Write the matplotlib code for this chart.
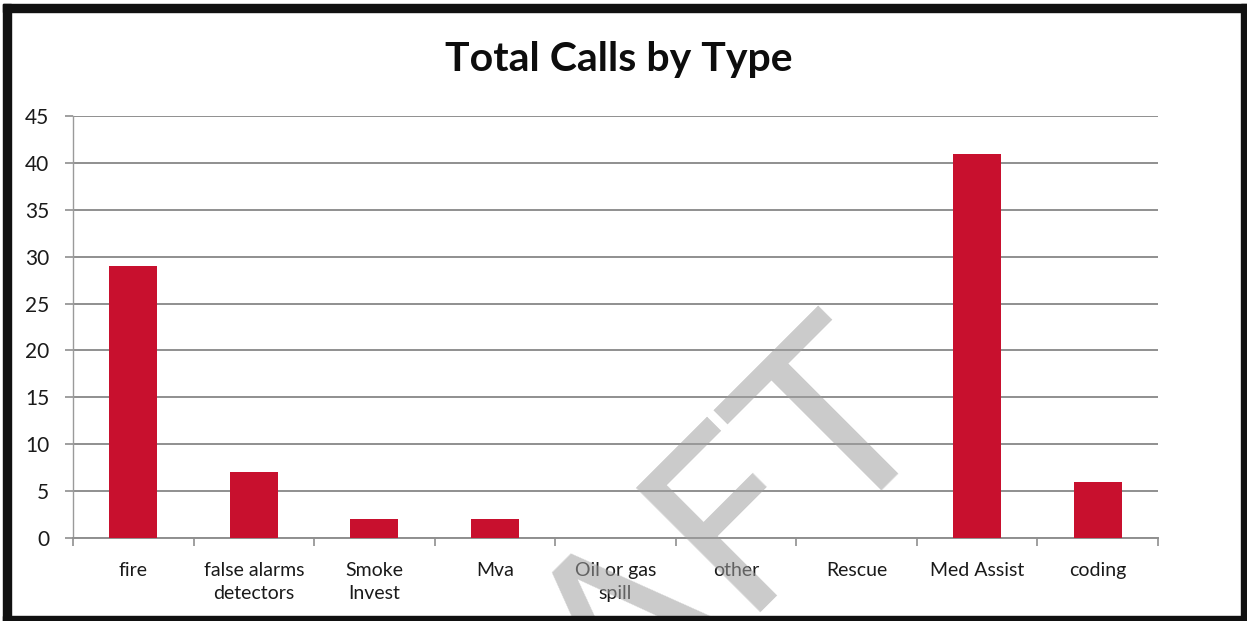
import matplotlib.pyplot as plt
from matplotlib.patches import Rectangle

# ======================
# DATOS
# ======================
categories = ["fire", "false alarms\ndetectors", "Smoke\nInvest", "Mva",
              "Oil or gas\nspill", "other", "Rescue", "Med Assist", "coding"]
calls = [29, 7, 2, 2, 0, 0, 0, 41, 6]
y_ticks = [0, 5, 10, 15, 20, 25, 30, 35, 40, 45]

TITLE = "Total Calls by Type"
WATERMARK = "DRAFT"

BAR_COLOR = "#c8102e"
GRID_COLOR = "#8f8f8f"
FONT = ["Lato", "DejaVu Sans"]

W, H = 1247, 621
fig = plt.figure(figsize=(W / 100, H / 100), dpi=100)
fig.patch.set_facecolor("white")

# área del gráfico (en píxeles de la imagen)
left, right, top, bottom = 73, 1158, 116, 538
ax = fig.add_axes([left / W, 1 - bottom / H, (right - left) / W, (bottom - top) / H])

x = list(range(len(categories)))
ax.bar(x, calls, width=0.40, color=BAR_COLOR, zorder=3)

ax.set_xlim(-0.5, len(categories) - 0.5)
ax.set_ylim(0, 45)
ax.set_yticks(y_ticks)
ax.set_yticklabels([str(v) for v in y_ticks], family=FONT, fontsize=15,
                   color="#1a1a1a")
ax.set_xticks(x)
ax.set_xticklabels(categories, family=FONT, fontsize=14,
                   color="#1a1a1a", linespacing=1.45)
ax.tick_params(axis="x", length=0, pad=17)
ax.tick_params(axis="y", length=6, color=GRID_COLOR, width=1.2, pad=11)

# marcas entre categorías
ax.set_xticks([i - 0.5 for i in range(len(categories) + 1)], minor=True)
ax.tick_params(axis="x", which="minor", length=6, color=GRID_COLOR, width=1.2)

ax.yaxis.grid(True, color=GRID_COLOR, linewidth=1.4, zorder=0)
ax.set_axisbelow(True)
for s in ["top", "right"]:
    ax.spines[s].set_visible(False)
ax.spines["left"].set_color("#9a9a9a")
ax.spines["left"].set_linewidth(1.0)
ax.spines["bottom"].set_color(GRID_COLOR)
ax.spines["bottom"].set_linewidth(1.4)

fig.text(619 / W, 1 - 71 / H, TITLE, ha="center", va="baseline",
         family=FONT, fontweight="bold", fontsize=29.5, color="#0d0d0d")

# marca de agua
fig.text(379 / W, -349 / H, WATERMARK, rotation=45, rotation_mode="anchor",
         ha="left", va="baseline", fontsize=173, color="#a0a0a0", alpha=0.55,
         family="DejaVu Sans", zorder=10)

# marco negro de la captura
for (x0, y0, w, h) in [(3, 4, 1244, 8), (3, 4, 8, 617), (1241, 4, 6, 617), (3, 616, 1244, 5)]:
    fig.patches.append(Rectangle((x0 / W, 1 - (y0 + h) / H), w / W, h / H,
                                 transform=fig.transFigure, color="#111111",
                                 zorder=20))

fig.savefig("out.png", dpi=100)
